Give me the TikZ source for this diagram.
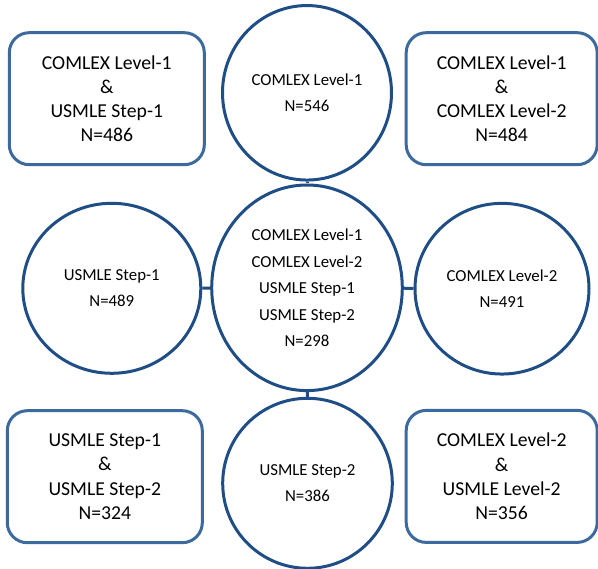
\documentclass[tikz,border=0pt]{standalone}
\usepackage{fontspec}
\setmainfont{Carlito}
\usetikzlibrary{shapes.geometric}

\definecolor{ringblue}{HTML}{1F4E87}
\definecolor{frameblue}{HTML}{3D6A9C}

\tikzset{
  ring/.style={draw=ringblue, line width=3pt, ellipse, inner sep=0pt, align=center,
    font=\fontsize{16.8}{26.5}\selectfont},
  tile/.style={draw=frameblue, line width=3pt, rounded corners=20pt, minimum width=195pt,
    minimum height=132pt, inner sep=0pt, align=center, font=\fontsize{19.7}{24.3}\selectfont},
  link/.style={draw=ringblue, line width=3pt}
}

\begin{document}
\begin{tikzpicture}[x=1pt,y=-1pt]

\useasboundingbox (0,0) rectangle (598,569);

% corner boxes
\node[tile] (l1s1) at (106.8,98.7) {COMLEX Level-1\\ \&\\ USMLE Step-1\\ N=486};
\node[tile, minimum width=191pt] (l1l2) at (501.7,98.7) {COMLEX Level-1\\ \&\\ COMLEX Level-2\\ N=484};
\node[tile] (s1s2) at (104.8,476.7) {USMLE Step-1\\ \&\\ USMLE Step-2\\ N=324};
\node[tile, minimum width=191pt] (l2s2) at (501.7,476.4) {COMLEX Level-2\\ \&\\ USMLE Level-2\\ N=356};

% circles
\node[ring, minimum width=169pt, minimum height=174.5pt] (lvl1) at (307,92.8) {COMLEX Level-1\\ N=546};
\node[ring, minimum width=190.6pt, minimum height=205.6pt] (all) at (307,287.8)
  {COMLEX Level-1\\ COMLEX Level-2\\ USMLE Step-1\\ USMLE Step-2\\ N=298};
\node[ring, minimum width=178pt, minimum height=170pt] (step1) at (111.8,288.3) {USMLE Step-1\\ N=489};
\node[ring, minimum width=174pt, minimum height=170.7pt] (lvl2) at (502,288.7) {COMLEX Level-2\\ N=491};
\node[ring, minimum width=169.6pt, minimum height=170pt] (step2) at (307.5,483.3) {USMLE Step-2\\ N=386};

\draw[link] (lvl1) -- (all);
\draw[link] (all) -- (step2);
\draw[link] (step1) -- (all);
\draw[link] (all) -- (lvl2);

\end{tikzpicture}
\end{document}
